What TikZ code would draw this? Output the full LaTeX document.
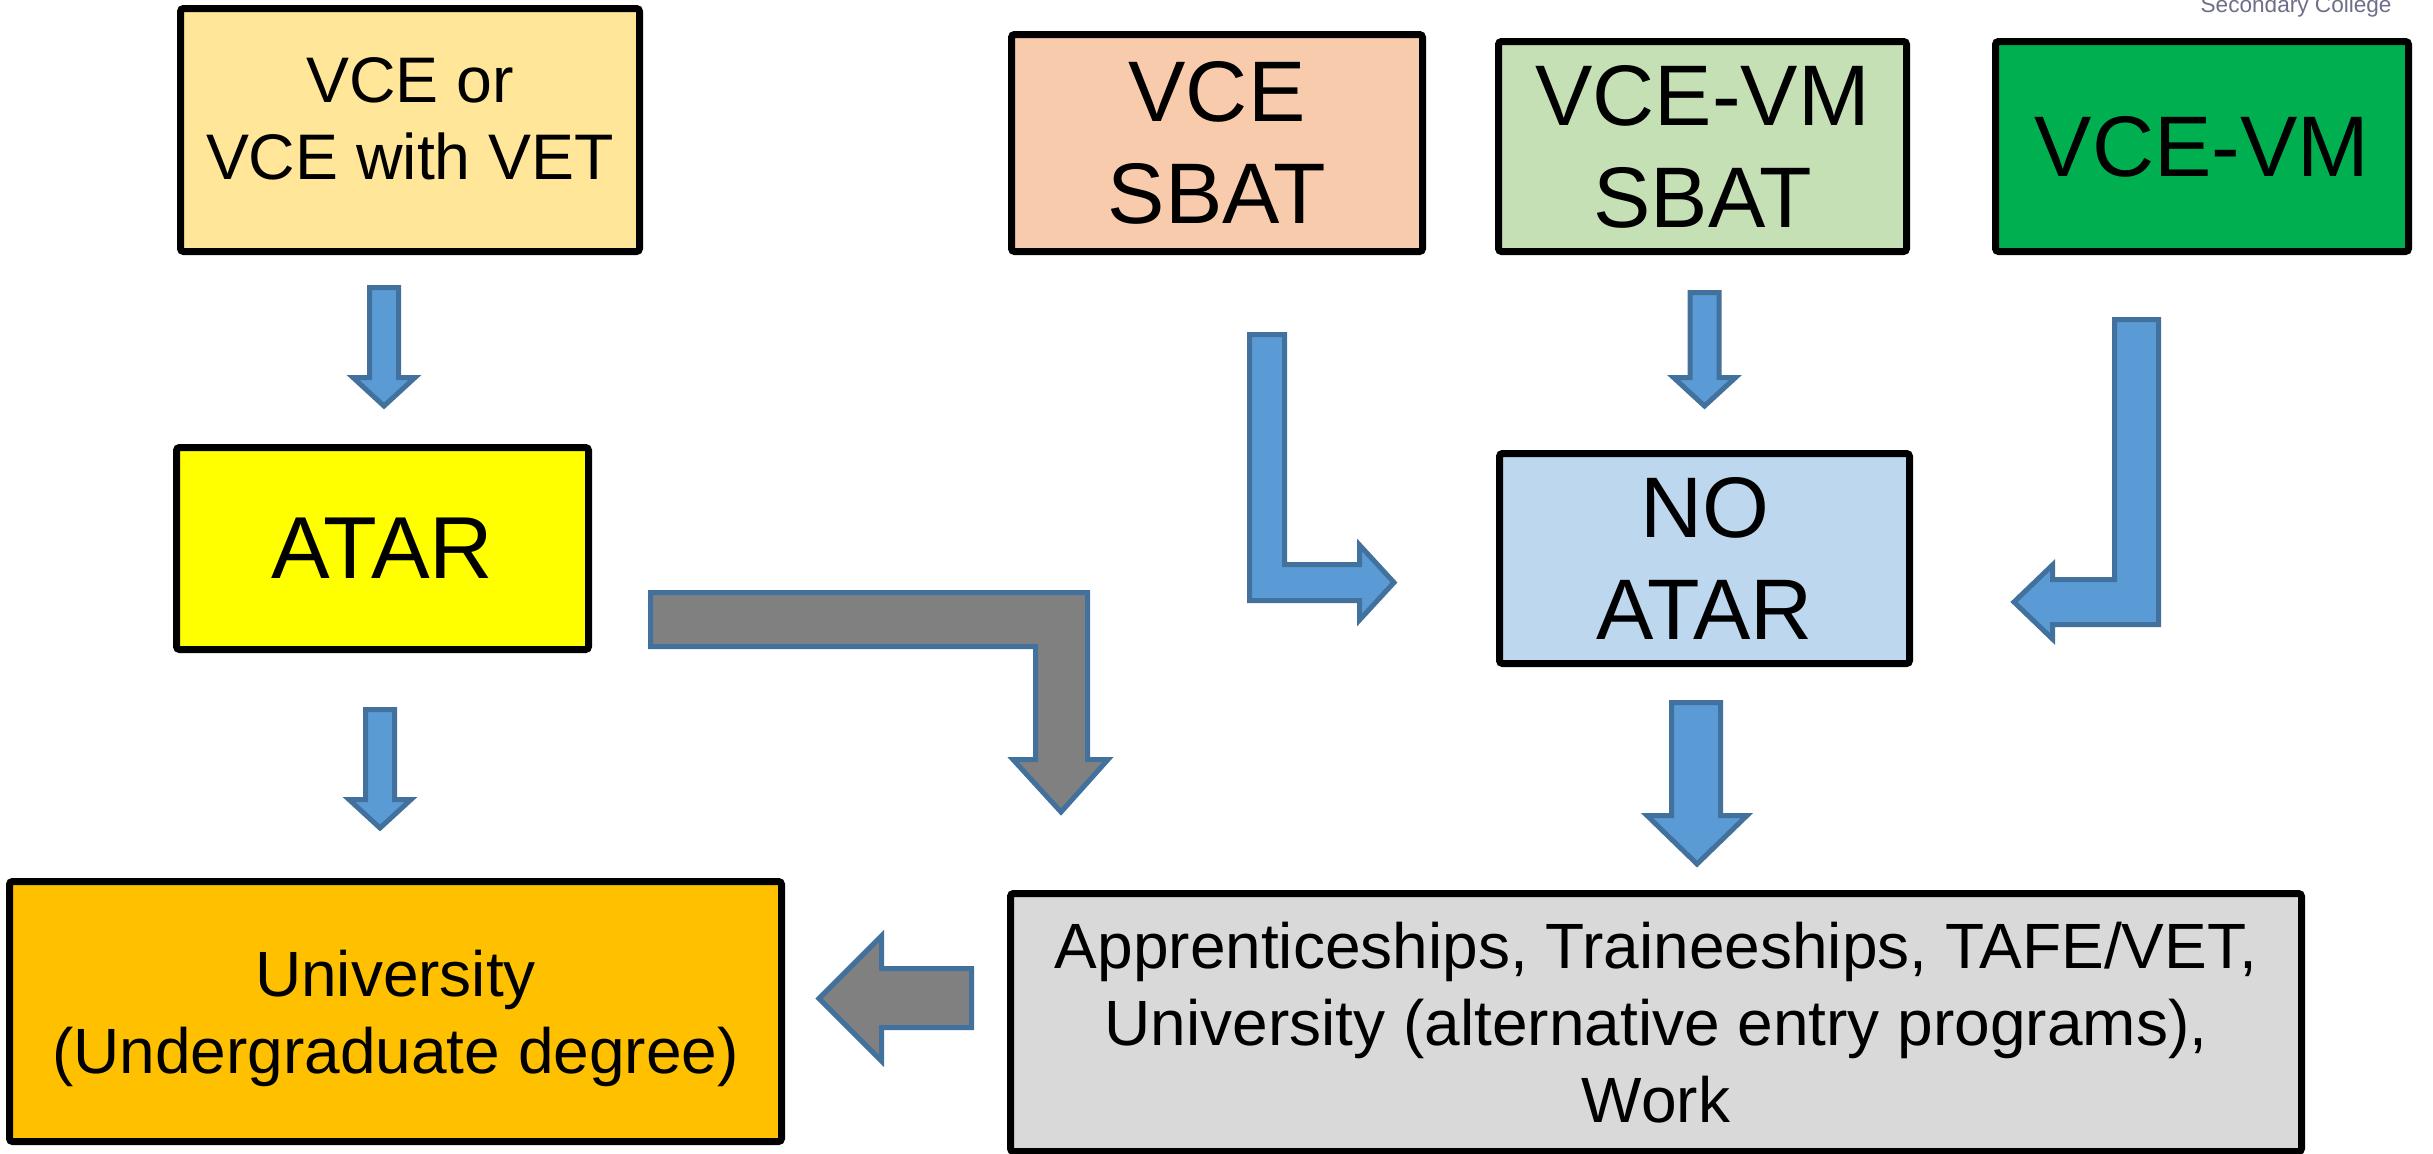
\documentclass[tikz,border=0pt]{standalone}
\usepackage{fontspec}
\setmainfont{Liberation Sans}
\definecolor{cvce}{HTML}{FFE699}
\definecolor{csbat}{HTML}{F8CBAD}
\definecolor{cvmsbat}{HTML}{C5E0B4}
\definecolor{cvm}{HTML}{00B050}
\definecolor{catar}{HTML}{FFFF00}
\definecolor{cnoatar}{HTML}{BDD7EE}
\definecolor{cuni}{HTML}{FFC000}
\definecolor{capp}{HTML}{D9D9D9}
\definecolor{arrowblue}{HTML}{5B9BD5}
\definecolor{arrowedge}{HTML}{41719C}
\definecolor{arrowgray}{HTML}{808080}
\definecolor{collegegrey}{HTML}{6E6E88}
\begin{document}
\begin{tikzpicture}[x=0.5pt,y=-0.5pt,
  box/.style={draw=black, line width=3.5pt, rounded corners=1.5pt, inner sep=0pt, align=center},
  bigtxt/.style={font=\fontsize{43}{51}\selectfont},
  midtxt/.style={font=\fontsize{32.2}{38.5}\selectfont},
  smalltxt/.style={font=\fontsize{32}{38.5}\selectfont},
  plaintxt/.style={inner sep=0pt, align=center},
  bluearrow/.style={fill=arrowblue, draw=arrowedge, line width=2.5pt, line join=miter},
  grayarrow/.style={fill=arrowgray, draw=arrowedge, line width=2.5pt, line join=miter}]
\useasboundingbox (0,0) rectangle (2433,1153);

% header text (cut at the top, as in the reference)
\node[anchor=base east, text=collegegrey, font=\fontsize{11.3}{13}\selectfont, inner sep=0pt] (college) at (2392,12.5) {Secondary College};

% boxes
\node[box, fill=cvce, minimum width=229.5pt, minimum height=121.5pt] (vce) at (410,130) {};
\node[plaintxt, midtxt] (vcetext) at ([yshift=5.75pt]vce.center) {VCE or\\VCE with VET};
\node[box, fill=csbat, bigtxt, minimum width=205.5pt, minimum height=108.5pt] (sbat) at (1217,143) {VCE\\SBAT};
\node[box, fill=cvmsbat, bigtxt, minimum width=204pt, minimum height=105pt] (vmsbat) at (1702.5,146.5) {VCE-VM\\SBAT};
\node[box, fill=cvm, bigtxt, minimum width=206.5pt, minimum height=105pt] (vm) at (2202,146.5) {VCE-VM};
\node[box, fill=catar, font=\fontsize{44}{51}\selectfont, minimum width=206pt, minimum height=101pt] (atar) at (382.5,548.5) {ATAR};
\node[box, fill=cnoatar, bigtxt, minimum width=205pt, minimum height=105pt] (noatar) at (1704.5,558.5) {NO\\ATAR};
\node[box, fill=cuni, minimum width=386pt, minimum height=130pt] (uni) at (395.5,1011.5) {};
\node[plaintxt, smalltxt] (unitext) at ([yshift=-3.5pt]uni.center) {University\\(Undergraduate degree)};
\node[box, fill=capp, smalltxt, minimum width=645.5pt, minimum height=129pt] (app) at (1656,1022.5) {Apprenticeships, Traineeships, TAFE/VET,\\University (alternative entry programs),\\Work};

% block arrows
% VCE -> ATAR
\draw[bluearrow] (369.5,287.5) -- (398.5,287.5) -- (398.5,377.5) -- (415,377.5) -- (384,406) -- (353,377.5) -- (369.5,377.5) -- cycle;
% ATAR -> University
\draw[bluearrow] (365.5,709.5) -- (394.5,709.5) -- (394.5,799.5) -- (411,799.5) -- (380,828) -- (349,799.5) -- (365.5,799.5) -- cycle;
% VCE-VM SBAT -> NO ATAR
\draw[bluearrow] (1690,292.5) -- (1719,292.5) -- (1719,377.5) -- (1735.5,377.5) -- (1704.5,406) -- (1673.5,377.5) -- (1690,377.5) -- cycle;
% NO ATAR -> pathways
\draw[bluearrow] (1671.5,702.5) -- (1720.5,702.5) -- (1720.5,815.5) -- (1747,815.5) -- (1697,864) -- (1647,815.5) -- (1671.5,815.5) -- cycle;
% VCE SBAT -> NO ATAR (L-shaped)
\draw[bluearrow] (1249.5,334.5) -- (1284.5,334.5) -- (1284.5,564.5) -- (1359.5,564.5) -- (1359.5,545) -- (1394,582.5) -- (1359.5,620) -- (1359.5,600.5) -- (1249.5,600.5) -- cycle;
% VCE-VM -> NO ATAR (J-shaped)
\draw[bluearrow] (2114.5,319.5) -- (2158.5,319.5) -- (2158.5,624.5) -- (2052.5,624.5) -- (2052.5,639) -- (2014,602) -- (2052.5,565) -- (2052.5,579.5) -- (2114.5,579.5) -- cycle;
% ATAR -> pathways (gray L)
\draw[grayarrow] (650.5,592.5) -- (1087.5,592.5) -- (1087.5,759.5) -- (1108,759.5) -- (1061,812) -- (1013,759.5) -- (1035.5,759.5) -- (1035.5,646.5) -- (650.5,646.5) -- cycle;
% pathways -> University (gray left)
\draw[grayarrow] (971.5,968.5) -- (971.5,1027.5) -- (881.5,1027.5) -- (881.5,1061) -- (819,998.5) -- (881.5,936) -- (881.5,968.5) -- cycle;
\end{tikzpicture}
\end{document}
